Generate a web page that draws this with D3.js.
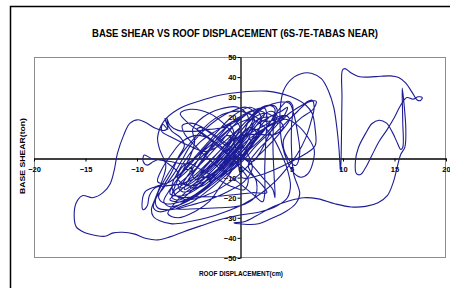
<!DOCTYPE html>
<html>
<head>
<meta charset="utf-8">
<script src="https://cdn.jsdelivr.net/npm/d3@7"></script>
<style>
  body { margin: 0; background: #fff; }
  svg { display: block; }
  text { font-family: "Liberation Sans Narrow", "Liberation Sans", Arial, sans-serif; font-weight: bold; }
</style>
</head>
<body>
<svg id="chart" width="450" height="288"></svg>
<script>
// tick labels
const xTicks = [-20, -15, -10, -5, 0, 5, 10, 15, 20];
const yTicks = [-50, -40, -30, -20, -10, 0, 10, 20, 30, 40, 50];

// response history, [roof displacement (cm), base shear (ton)]
const warmUp = [[0,0],[0.6,4],[1.0,9],[0.4,7],[-0.6,1],[-1.6,-6],[-1.2,-7],[0,-2],[1.2,6],[1.9,13],[1.2,14],[0,8],[-1.3,0],[-2.6,-9],[-3,-12],[-1.8,-9],[-0.4,-1],[1,8],[2.2,17],[2.8,20],[1.8,19],[0.3,12],[-1.2,3],[-2.8,-5],[-4.2,-12],[-4.8,-15],[-3.6,-14],[-2.2,-8],[-0.8,1],[0.6,11],[1.4,19],[0.8,22],[-0.4,17],[-1.8,8],[-3.4,-1],[-5,-9],[-6,-14],[-5.6,-17],[-4.2,-15],[-2.8,-9],[-1.4,-2],[0.2,7],[1.6,16],[2.4,22],[1.2,23],[-0.6,16],[-2.2,8],[-3.8,0],[-5.2,-7],[-6.4,-13],[-6.8,-18],[-5.6,-19],[-4,-15],[-2.4,-7],[-0.8,2],[0.8,12],[2,20]];
const leftSwing = [[3,23],[3.6,21],[3.2,16],[2,9],[0.5,2],[-1,-5],[-2.6,-12],[-4.2,-18],[-5.8,-22],[-7.2,-23],[-7.9,-20],[-7.4,-14],[-6.6,-7],[-6,0],[-5.4,6],[-5.8,10],[-6.6,13],[-7.1,17],[-7.3,19.5],[-7.0,14],[-7.5,16.5],[-7.6,13],[-6.6,10],[-5,6],[-3.4,3],[-2,6],[-0.6,12],[0.6,18],[1.8,24],[2.8,26],[3.4,24],[3,18],[1.6,10],[0,2],[-1.6,-6],[-3.2,-14],[-4.8,-20],[-6.4,-25],[-7.8,-27],[-8.4,-25],[-8,-18],[-7.2,-10],[-6.2,-2],[-5.2,5],[-4,12],[-2.8,18],[-1.4,22],[0,23],[1.2,21],[2.4,18],[3.6,19],[4.4,21],[4.8,19],[4,13],[2.6,5],[1.2,-2],[-0.2,-9],[-1.8,-15],[-3.4,-19],[-5,-21],[-6.2,-19],[-6.6,-14],[-6,-7],[-5,1],[-3.8,8],[-2.4,13],[-1,17],[0.2,20],[-1.5,15],[-3,14],[-4.6,13],[-6,13.5],[-6.8,16]];
const farLeftLoop = [[-7.1,19.5],[-7.0,15],[-7.3,13.5],[-8.2,14.5],[-9.2,17.5],[-9.9,18.8],[-10.7,17],[-11.3,11],[-11.9,2],[-12.2,-6],[-12.6,-13],[-13.3,-17.5],[-14.3,-20],[-15.3,-19],[-15.9,-22.5],[-16.1,-29],[-15.9,-34.5],[-15.1,-37.3],[-14,-38.8],[-13.1,-39.2],[-12.3,-37.5],[-11.4,-37.2],[-10.3,-38],[-9.1,-40.3],[-8,-41],[-6.8,-39.5],[-5.4,-36.8],[-3.8,-34],[-2,-31],[0,-28.6],[2,-27],[3.6,-24],[4.6,-20],[4.9,-14],[4.6,-6],[4,2],[3.2,10],[2.2,16],[1,19]];
const midLoops = [[-0.5,16],[-2,10],[-3.6,3],[-5.2,-3],[-6.8,-2],[-7.8,-1.2],[-8.6,-0.5],[-9.3,1.2],[-9.4,-2],[-9,-3.8],[-8.4,-2],[-7.8,-1],[-7,-3],[-6,-8],[-6.8,-12],[-8.2,-14.5],[-9.2,-17],[-9.5,-22],[-9.4,-26],[-9,-24],[-8.8,-19],[-8.2,-15],[-7,-14],[-5.6,-13],[-4,-9],[-2.6,-2],[-1.2,6],[0.2,14],[1.4,20],[2.4,22],[3.2,20.5],[3.6,17],[4.8,22],[6,26],[7,28.5],[7.2,25],[6.9,18],[6.4,10],[5.6,2],[4.6,-5],[3.4,-12],[2,-18],[0.4,-23],[-1.4,-27],[-3.2,-30],[-5,-32],[-6.6,-33],[-7.8,-31.5],[-8.4,-29.5],[-8.6,-26],[-8.2,-20],[-7.6,-12],[-7.2,-4],[-7.8,4],[-8,10],[-7.4,18],[-6,24],[-4,28],[-2,31],[0,32.5],[2.6,33],[4.9,30.3],[6.4,26],[7,22],[7.3,14]];
const coreLoops = [[7.3,6],[6.4,2],[5,-2],[3.4,-6],[1.8,-9],[0.2,-10],[-0.4,1],[-1.6,-4],[-3,-9],[-4.4,-13],[-5.4,-16],[-5,-11],[-4.2,-5],[-3.4,1],[-2.6,7],[-1.8,12],[-1,16],[-0.6,12],[-1.4,5],[-2.4,-2],[-3.6,-8],[-4.8,-13],[-5.8,-15],[-5.2,-10],[-4.4,-4],[-3.6,3],[-2.6,9],[-1.6,14],[-0.6,18],[0,15],[-0.8,8],[-1.8,1],[-3,-6],[-4.2,-11],[-4.6,-9],[-3.8,-3],[-3,3],[-2,8],[-1.2,11],[-0.6,8],[-1.6,2],[-2.8,-4],[-3.8,-8],[-3.2,-10],[-2,-6],[-0.8,0],[0.2,6],[1.6,12],[3,16],[4.4,19],[5.6,16],[6.6,10],[7.2,4]];
const farRightLoop = [[7.1,-2],[6.6,-8],[5.9,-9.8],[5.2,-7.5],[4.6,-2],[4.1,6],[3.9,15],[3.9,24],[4.2,33],[5,39],[6.2,42],[7,41.8],[7.9,39.2],[8.6,33],[9.1,25],[9.4,15],[9.6,5],[9.7,-3],[9.75,-6.5],[9.8,-3],[9.85,10],[9.9,30],[9.95,43.5],[10.2,44.2],[10.8,42],[11.5,40.3],[12.5,40],[13.6,40.4],[14.6,40.6],[15.4,39.8],[16.1,37],[16.7,32.5],[17.2,28.6],[17.5,28.3],[17.7,29.8],[17.3,30.2],[16.8,29],[16.2,29.8],[15.6,26],[15,20],[14.3,14],[13.5,8],[12.8,1],[12.2,-5],[11.7,-8.5],[11.3,-8],[11.2,-2],[11.5,5],[12.2,12],[12.8,16.8],[13.5,18.5],[14.2,17.2],[14.8,12.5],[15.3,7],[15.6,4],[15.8,5],[15.8,18],[15.75,34.5],[15.9,28],[16.1,14],[16,5],[15.6,1.5],[15.3,-4],[14.9,-12],[14.3,-19],[13.4,-22.5],[12.2,-24.3],[10.8,-24.6],[9.2,-23],[7.6,-20.6],[6.2,-20],[4.8,-21.5],[3.2,-24.5],[1.6,-29],[0.4,-32],[-0.6,-32.5],[0.4,-33.2],[1.8,-33],[3,-30.5],[4.4,-27],[5.4,-23],[5.8,-18]];
const settleLoops = [[5.2,-8],[5,4],[5,16],[5.1,26],[4.6,28],[3.8,24],[3,18],[1.8,10],[0.4,2],[-1,-6],[-2.6,-13],[-4.2,-19],[-5.6,-23],[-6.8,-24.5],[-7.4,-22],[-6.8,-16],[-5.8,-9],[-4.6,-2],[-3.2,6],[-1.8,13],[-0.4,19],[1,23],[2.4,24.5],[2.6,20],[2.5,8],[2.4,-6],[2.4,-18],[2.2,-22],[1.4,-19],[0,-13],[-1.6,-7],[-3,-1],[-4.4,6],[-5.4,12],[-5.6,16],[-4.6,17],[-3,13],[-1.6,8],[-0.2,2],[1.2,-4],[2.2,-10],[3.2,-16],[3.4,-20],[3.3,-8],[3.2,6],[3.3,18],[3.6,24],[3.2,26],[2,24],[0.6,18],[-0.8,10],[-2.2,2],[-3.6,-6],[-5,-13],[-6.2,-18],[-6.8,-21],[-5.6,-22],[-4,-18],[-2.6,-12],[-1.2,-5],[0.2,3],[1.6,11],[2.8,16],[3.8,18],[4.2,15],[3.4,11.5],[1.8,11.5],[0.2,11],[-1.2,7],[-2.6,0],[-4,-7],[-5.4,-13],[-6.4,-17],[-6,-19.5],[-4.4,-19.6],[-2.4,-19.4],[-0.4,-18.4],[1.2,-17.5],[2.6,-17.5],[2.2,-14],[1,-8],[-0.4,-2],[-1.8,4],[-3.2,10],[-4.2,14],[-3.8,15],[-2.6,11],[-1.2,5],[0,0],[1,5],[1.6,12],[1,15],[-0.2,10],[-1.4,2],[-2.8,-6],[-3.8,-10],[-3,-9],[-1.8,-4],[-0.6,2],[0.4,6],[0,5],[-1,0],[-2,-4],[-1.2,-2],[-0.4,1]];
const denseLoops = [[-2,6],[-3.6,12],[-5,17],[-5.8,22],[-4.8,24],[-3,22],[-1.6,17],[-0.4,10],[0.6,3],[1.2,-5],[0.4,-12],[-1.2,-17],[-3,-21],[-5,-24],[-6.8,-26],[-8,-25],[-8.2,-21],[-7.4,-15],[-6.4,-8],[-5.6,-1],[-4.8,6],[-3.6,13],[-2.2,19],[-0.8,23],[0.6,25],[1.4,22],[0.8,14],[-0.4,6],[-1.8,-2],[-3.4,-10],[-4.6,-16],[-5.8,-21],[-6.6,-20],[-6.2,-13],[-5.4,-5],[-4.8,1],[-4.4,8],[-4.6,14],[-3.6,20],[-2,24],[-0.2,25],[0.8,20],[0.2,11],[-1,3],[-2.4,-5],[-3.8,-12],[-5.2,-17],[-6.2,-22],[-7,-28],[-6,-30],[-4.4,-27],[-3,-22],[-2,-15],[-1,-8],[0,-1],[1,6],[1.8,13],[2,21],[1,25],[-0.6,21],[-2,14],[-3.2,7],[-4.6,-1],[-6,-9],[-7.2,-13],[-8,-12],[-7.6,-6],[-6.6,2],[-5.6,8],[-4.2,11],[-2.8,9],[-1.4,3],[-0.2,-4],[0.8,-11],[0.4,-16],[-1,-14],[-2.4,-10],[-3.8,-6],[-5,-3],[-5.8,-6],[-6,-11],[-5,-14],[-3.4,-12],[-2,-7],[-0.6,0],[0.6,7],[1.4,15],[2.8,20],[4,23],[4.6,25],[4.2,20],[3,13],[1.6,6],[0.2,-2],[-1.4,-9],[-3,-16],[-4.6,-22],[-6.2,-25.5],[-4.2,-25.5],[-2,-25],[0,-24],[1.4,-20],[1.6,-12],[0.8,-4]];
const upperRightLoops = [[1.8,4],[3,10],[4.4,17],[5.6,23],[6.6,27.5],[7.4,28],[7.1,24],[6,20],[5,15],[4.2,8],[4.6,0],[5.4,-4],[5.8,2],[5.6,12],[5.2,22],[4.8,27],[3.8,27.5],[2.4,25],[1.2,20],[0.2,14],[-0.6,8],[0,2],[1.2,-2],[2,3],[2.8,11],[3.6,18],[4.4,21],[3.6,20],[2.4,16],[1,12],[-0.4,6],[-1.2,1]];

const history = [].concat(warmUp, leftSwing, farLeftLoop, midLoops, coreLoops, farRightLoop, settleLoops, denseLoops, upperRightLoops);

const svg = d3.select("#chart");

// outer chart frame (only left and top edges are visible)
svg.append("path")
    .attr("d", "M10.5,288 V6.5 H450")
    .attr("fill", "none")
    .attr("stroke", "#000")
    .attr("stroke-width", 1.5);

let x = d3.scaleLinear().domain([-20, 20]).range([34, 446]);
let y = d3.scaleLinear().domain([-50, 50]).range([258, 57]);

// plot area
svg.append("rect")
    .attr("x", 34.5).attr("y", 57.5)
    .attr("width", 411).attr("height", 200)
    .attr("fill", "#fff")
    .attr("stroke", "#8c8c8c")
    .attr("stroke-width", 1);

// axes cross at the origin
let xAxis = svg.append("g")
    .attr("transform", "translate(0," + (Math.round(y(0)) + 0.5) + ")")
    .call(d3.axisBottom(x).tickValues(xTicks).tickSize(3).tickSizeOuter(0).tickPadding(5));
let yAxis = svg.append("g")
    .attr("transform", "translate(" + (Math.round(x(0)) + 0.5) + ",0)")
    .call(d3.axisLeft(y).tickValues(yTicks).tickSize(3).tickSizeOuter(0).tickPadding(1));

[xAxis, yAxis].forEach(function(g){
    g.select(".domain").attr("stroke", "#000").attr("stroke-width", 1.3);
    g.selectAll(".tick line").attr("stroke", "#000");
    g.selectAll(".tick text")
        .attr("fill", "#000")
        .style("font-size", "7.5px")
        .style("font-family", '"Liberation Sans Narrow", "Liberation Sans", Arial, sans-serif')
        .style("font-weight", "bold");
});

// the series
let line = d3.line()
    .x(d => x(d[0]))
    .y(d => y(d[1]))
    .curve(d3.curveCatmullRom.alpha(0.5));

svg.append("path")
    .datum(history)
    .attr("d", line)
    .attr("fill", "none")
    .attr("stroke", "#1c1c94")
    .attr("stroke-width", 1.1)
    .attr("stroke-linejoin", "round");

// titles
svg.append("text")
    .attr("x", 235).attr("y", 37)
    .attr("text-anchor", "middle")
    .attr("textLength", 286).attr("lengthAdjust", "spacingAndGlyphs")
    .style("font-size", "11px")
    .text("BASE SHEAR VS ROOF DISPLACEMENT (6S-7E-TABAS NEAR)");

svg.append("text")
    .attr("x", 241).attr("y", 276)
    .attr("text-anchor", "middle")
    .attr("textLength", 84).attr("lengthAdjust", "spacingAndGlyphs")
    .style("font-size", "8px")
    .text("ROOF DISPLACEMENT(cm)");

svg.append("text")
    .attr("transform", "translate(25,156) rotate(-90)")
    .attr("text-anchor", "middle")
    .attr("textLength", 76).attr("lengthAdjust", "spacingAndGlyphs")
    .style("font-size", "8px")
    .text("BASE SHEAR(ton)");
</script>
</body>
</html>
